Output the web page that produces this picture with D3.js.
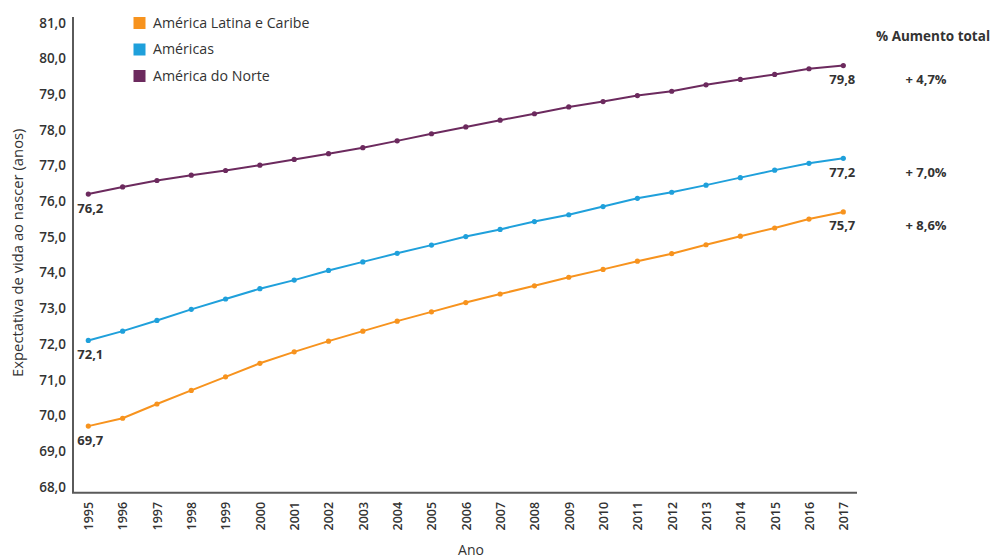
<!DOCTYPE html>
<html>
<head>
<meta charset="utf-8">
<script src="https://cdn.jsdelivr.net/npm/d3@7"></script>
<style>
  html, body { margin: 0; padding: 0; background: #fff; }
  svg { display: block; }
  text { font-family: "Open Sans", "Noto Sans", sans-serif; fill: #333; }
</style>
</head>
<body>
<svg id="chart" width="995" height="560"></svg>
<script>
// Expectativa de vida ao nascer, 1995–2017
const years = d3.range(1995, 2018);
const seriesNames = ["América Latina e Caribe", "Américas", "América do Norte"];
const seriesColors = ["#F7931E", "#1FA0DB", "#6C2A5E"];

const latinAmerica = [69.7, 69.92, 70.32, 70.70, 71.08, 71.46, 71.78, 72.08, 72.36, 72.64, 72.90, 73.16,
  73.40, 73.63, 73.87, 74.09, 74.32, 74.53, 74.78, 75.02, 75.25, 75.50, 75.7];
const americas = [72.1, 72.36, 72.66, 72.97, 73.26, 73.55, 73.79, 74.06, 74.30, 74.54, 74.77, 75.01,
  75.21, 75.43, 75.62, 75.85, 76.08, 76.25, 76.45, 76.66, 76.87, 77.06, 77.2];
const northAmerica = [76.2, 76.40, 76.58, 76.73, 76.86, 77.01, 77.17, 77.33, 77.50, 77.69, 77.89, 78.08,
  78.27, 78.45, 78.64, 78.79, 78.96, 79.08, 79.26, 79.41, 79.55, 79.71, 79.8];

const totalIncrease = ["+ 8,6%", "+ 7,0%", "+ 4,7%"];
const yTicks = d3.range(68, 82);

const series = [latinAmerica, americas, northAmerica];

const ptBR = d3.formatLocale({ decimal: ",", thousands: ".", grouping: [3], currency: ["R$", ""] });
const fmt1 = ptBR.format(".1f");

const svg = d3.select("#chart");

const x = d3.scaleLinear().domain([1995, 2017]).range([88.3, 843.3]);
const y = d3.scaleLinear().domain([68, 81]).range([486.8, 22.7]);

const axisX0 = 73, axisX1 = 857;
const axisYTop = y(81.16), axisYBottom = y(67.83);

// Y axis labels
const gy = svg.append("g").attr("transform", `translate(${axisX0},0)`)
  .call(d3.axisLeft(y).tickValues(yTicks).tickSize(0).tickPadding(7).tickFormat(fmt1));
gy.select(".domain").remove();
gy.selectAll("text")
  .style("font-family", '"Open Sans", sans-serif')
  .style("font-size", "13.5px")
  .style("font-weight", "600")
  .attr("fill", "#3a3a3a");

// X axis labels (rotated)
const gx = svg.append("g").attr("transform", `translate(0,${axisYBottom})`)
  .call(d3.axisBottom(x).tickValues(years).tickSize(0).tickFormat(d3.format("d")));
gx.select(".domain").remove();
gx.selectAll("text")
  .attr("transform", "rotate(-90)")
  .attr("text-anchor", "end")
  .attr("x", -9)
  .attr("y", 0)
  .attr("dy", "0.35em")
  .style("font-family", '"Open Sans", sans-serif')
  .style("font-size", "12.5px")
  .style("font-weight", "600")
  .attr("fill", "#3a3a3a");

// Axis lines
svg.append("line").attr("x1", axisX0).attr("x2", axisX0).attr("y1", axisYTop).attr("y2", axisYBottom)
  .attr("stroke", "#5a5a5a").attr("stroke-width", 2);
svg.append("line").attr("x1", axisX0 - 1).attr("x2", axisX1).attr("y1", axisYBottom).attr("y2", axisYBottom)
  .attr("stroke", "#5a5a5a").attr("stroke-width", 2);

// Axis titles
svg.append("text")
  .attr("transform", `translate(18,${(y(81) + y(68)) / 2 - 2}) rotate(-90)`)
  .attr("text-anchor", "middle")
  .attr("dy", "0.35em")
  .style("font-size", "14.8px")
  .text("Expectativa de vida ao nascer (anos)");

svg.append("text")
  .attr("x", 471).attr("y", 555)
  .attr("text-anchor", "middle")
  .style("font-size", "14px")
  .text("Ano");

// Lines and markers
const line = d3.line().x((d, i) => x(years[i])).y(d => y(d));

series.forEach((vals, s) => {
  svg.append("path")
    .datum(vals)
    .attr("d", line)
    .attr("fill", "none")
    .attr("stroke", seriesColors[s])
    .attr("stroke-width", 2);
  svg.append("g").selectAll("circle")
    .data(vals)
    .join("circle")
    .attr("cx", (d, i) => x(years[i]))
    .attr("cy", d => y(d))
    .attr("r", 2.6)
    .attr("fill", seriesColors[s]);

  // start and end value labels
  const first = vals[0], last = vals[vals.length - 1];
  svg.append("text")
    .attr("x", x(years[0]) + 2).attr("y", y(first) + 14)
    .attr("text-anchor", "middle").attr("dy", "0.35em")
    .style("font-size", "13px").style("font-weight", "700")
    .attr("fill", "#333")
    .text(fmt1(first));
  svg.append("text")
    .attr("x", x(years[years.length - 1]) - 1).attr("y", y(last) + 14)
    .attr("text-anchor", "middle").attr("dy", "0.35em")
    .style("font-size", "13px").style("font-weight", "700")
    .attr("fill", "#333")
    .text(fmt1(last));

  // total increase column
  svg.append("text")
    .attr("x", 926).attr("y", y(last) + 14)
    .attr("text-anchor", "middle").attr("dy", "0.35em")
    .style("font-size", "13px").style("font-weight", "700")
    .attr("fill", "#333")
    .text(totalIncrease[s]);
});

svg.append("text")
  .attr("x", 933).attr("y", 36)
  .attr("text-anchor", "middle").attr("dy", "0.35em")
  .style("font-size", "13.5px").style("font-weight", "700")
  .attr("fill", "#333")
  .text("% Aumento total");

// Legend
const legend = svg.append("g");
seriesNames.forEach((name, i) => {
  const cy = 23 + i * 26.5;
  legend.append("rect")
    .attr("x", 133.5).attr("y", cy - 6).attr("width", 12).attr("height", 12)
    .attr("fill", seriesColors[i]);
  legend.append("text")
    .attr("x", 153).attr("y", cy).attr("dy", "0.35em")
    .style("font-size", "14.2px")
    .attr("fill", "#333")
    .text(name);
});
</script>
</body>
</html>
